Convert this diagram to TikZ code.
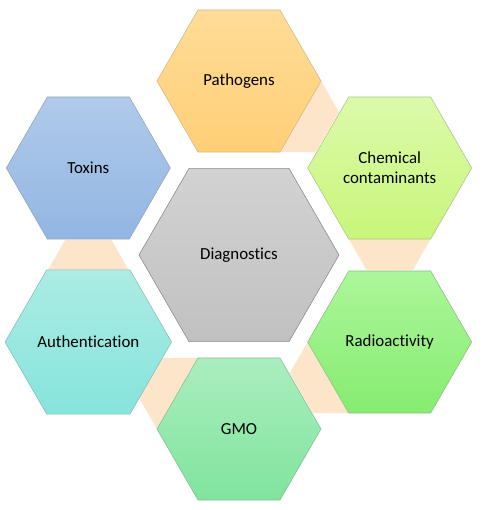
\documentclass[tikz,border=0pt]{standalone}
\usepackage{fontspec}
\setmainfont{Carlito}[Ligatures=NoCommon]
\usetikzlibrary{shapes.geometric,calc,backgrounds}
\definecolor{pathtop}{RGB}{255,220,152}
\definecolor{pathbot}{RGB}{255,207,118}
\definecolor{chemtop}{RGB}{220,250,170}
\definecolor{chembot}{RGB}{200,246,122}
\definecolor{radtop}{RGB}{172,246,155}
\definecolor{radbot}{RGB}{134,236,112}
\definecolor{gmotop}{RGB}{170,238,190}
\definecolor{gmobot}{RGB}{128,228,158}
\definecolor{authtop}{RGB}{172,236,228}
\definecolor{authbot}{RGB}{134,228,220}
\definecolor{toxtop}{RGB}{176,202,234}
\definecolor{toxbot}{RGB}{146,182,226}
\definecolor{diagtop}{RGB}{210,210,210}
\definecolor{diagbot}{RGB}{193,193,193}
\definecolor{peach}{RGB}{253,229,202}

\begin{document}
\begin{tikzpicture}[x=0.3mm, y=0.3mm,
  hexa/.style={regular polygon, regular polygon sides=6, minimum size=49.2mm,
    inner sep=0pt, draw=black!40, line width=0.5pt, align=center,
    font=\fontsize{14.4}{17}\selectfont},
  hpat/.style={hexa, top color=pathtop, bottom color=pathbot, draw=pathbot!75!black!70},
  hchem/.style={hexa, top color=chemtop, bottom color=chembot, draw=chembot!70!black!70},
  hrad/.style={hexa, top color=radtop, bottom color=radbot, draw=radbot!70!black!70},
  hgmo/.style={hexa, top color=gmotop, bottom color=gmobot, draw=gmobot!70!black!70},
  hauth/.style={hexa, top color=authtop, bottom color=authbot, draw=authbot!70!black!70},
  htox/.style={hexa, top color=toxtop, bottom color=toxbot, draw=toxbot!70!black!70},
  hdiag/.style={hexa, minimum size=60mm, top color=diagtop, bottom color=diagbot, draw=black!45},
  lnk/.style={fill=peach},
]
\useasboundingbox (-239,-255) rectangle (252,255);
% centre and ring of six
\node[hdiag] (diag) at (0,0) {Diagnostics};
\node[hpat] (pat) at (90:174) {Pathogens};
\node[hchem] (chem) at (30:174) {Chemical\\contaminants};
\node[hrad] (rad) at (-30:174) {Radioactivity};
\node[hgmo] (gmo) at (-90:174) {GMO};
\node[hauth] (auth) at (-150:174) {Authentication};
\node[htox] (tox) at (150:174) {Toxins};
% tapered links, each from a hexagon towards its clockwise neighbour
\begin{scope}[on background layer]
\foreach \a/\t in {pat/-30, chem/-90, rad/-150, gmo/150, auth/90}
  \fill[lnk] ($(\a.center)+({\t+30}:82)$) -- ++({\t-30}:35.8)
    -- ($(\a.center)+({\t-30}:82)+({\t+30}:35.8)$)
    -- ($(\a.center)+({\t-30}:82)$) -- cycle;
\end{scope}
\end{tikzpicture}
\end{document}
